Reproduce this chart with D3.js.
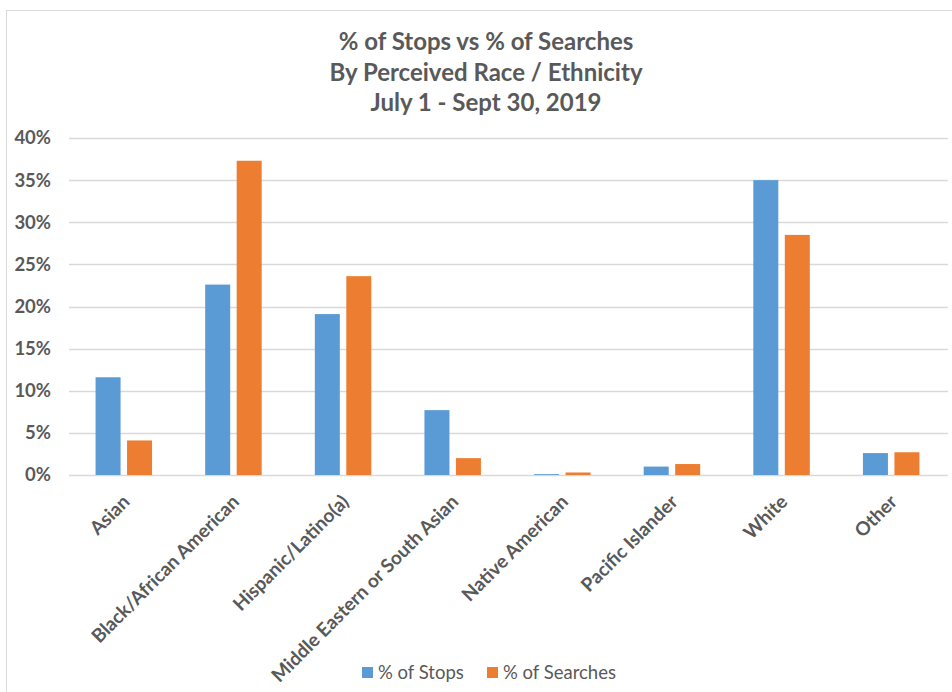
<!DOCTYPE html>
<html>
<head>
<meta charset="utf-8">
<script src="https://cdn.jsdelivr.net/npm/d3@7"></script>
<style>
  html, body { margin: 0; padding: 0; background: #fff; }
  svg { display: block; }
</style>
</head>
<body>
<svg id="chart" width="952" height="692"></svg>
<script>
const categories = ["Asian", "Black/African American", "Hispanic/Latino(a)", "Middle Eastern or South Asian", "Native American", "Pacific Islander", "White", "Other"];
const seriesNames = ["% of Stops", "% of Searches"];
const stops = [11.6, 22.6, 19.1, 7.7, 0.1, 1.0, 35.0, 2.6];
const searches = [4.1, 37.3, 23.6, 2.0, 0.3, 1.3, 28.5, 2.7];
const yTicks = [0, 5, 10, 15, 20, 25, 30, 35, 40];
const titleLines = ["% of Stops vs % of Searches", "By Perceived Race / Ethnicity", "July 1 - Sept 30, 2019"];
const colors = ["#5B9BD5", "#ED7D31"];

const FONT = "Lato, Carlito, Calibri, 'Open Sans', sans-serif";
const TEXT = "#595959";
const GRID = "#d9d9d9";

const svg = d3.select("#chart");
const plot = { left: 69, right: 946, top: 138, bottom: 475 };

// border
svg.append("rect").attr("x", 6.5).attr("y", 10.5).attr("width", 980).attr("height", 720)
  .attr("fill", "none").attr("stroke", GRID).attr("stroke-width", 1);

// title
const title = svg.append("text").attr("x", 486).attr("y", 50)
  .attr("text-anchor", "middle").attr("font-family", FONT).attr("font-weight", "bold")
  .attr("font-size", 24).attr("fill", TEXT);
titleLines.forEach((t, i) => title.append("tspan").attr("x", 486).attr("y", 50 + i * 30.5).text(t));

const x0 = d3.scaleBand().domain(categories).range([plot.left, plot.right]).padding(0);
const groupW = 56.5;
const x1 = d3.scaleBand().domain(seriesNames)
  .range([(x0.bandwidth() - groupW) / 2, (x0.bandwidth() + groupW) / 2]).paddingInner(0.206);
const y = d3.scaleLinear().domain([0, 40]).range([plot.bottom, plot.top]);

// y axis labels
const yAxis = d3.axisLeft(y).tickValues(yTicks).tickFormat(d => d + "%").tickSize(0).tickPadding(18);
const yG = svg.append("g").attr("transform", `translate(${plot.left},0)`).call(yAxis);
yG.select(".domain").remove();
yG.selectAll("text").attr("font-family", FONT).attr("font-weight", "bold")
  .attr("font-size", 18.5).attr("fill", TEXT);

// grid
svg.append("g").selectAll("line").data(yTicks).join("line")
  .attr("x1", plot.left).attr("x2", plot.right + 2)
  .attr("y1", d => Math.round(y(d)) + 0.5).attr("y2", d => Math.round(y(d)) + 0.5)
  .attr("stroke", GRID).attr("stroke-width", 1.3);

// bars
const series = [stops, searches];
const groups = svg.append("g").selectAll("g").data(categories).join("g")
  .attr("transform", c => `translate(${x0(c)},0)`);
groups.selectAll("rect").data((c, i) => seriesNames.map((s, k) => ({ s, k, v: series[k][i] })))
  .join("rect")
  .attr("x", d => x1(d.s)).attr("width", x1.bandwidth())
  .attr("y", d => y(d.v)).attr("height", d => y(0) - y(d.v))
  .attr("fill", d => colors[d.k]);

// x axis labels
const xAxis = d3.axisBottom(x0).tickSize(0).tickPadding(0);
const xG = svg.append("g").attr("transform", `translate(0,${plot.bottom})`).call(xAxis);
xG.select(".domain").remove();
xG.selectAll("text")
  .attr("font-family", FONT).attr("font-weight", "bold").attr("font-size", 19).attr("fill", TEXT)
  .attr("text-anchor", "end")
  .attr("dy", null).attr("y", 0)
  .attr("transform", "translate(7,28) rotate(-45)");

// legend
const legend = svg.append("g").attr("font-family", FONT).attr("font-size", 18.5).attr("fill", TEXT);
const legendItems = [{ name: seriesNames[0], x: 362 }, { name: seriesNames[1], x: 487 }];
legendItems.forEach((it, k) => {
  legend.append("rect").attr("x", it.x).attr("y", 667).attr("width", 11).attr("height", 11).attr("fill", colors[k]);
  legend.append("text").attr("x", it.x + 16).attr("y", 679).attr("fill", TEXT).text(it.name);
});
</script>
</body>
</html>
